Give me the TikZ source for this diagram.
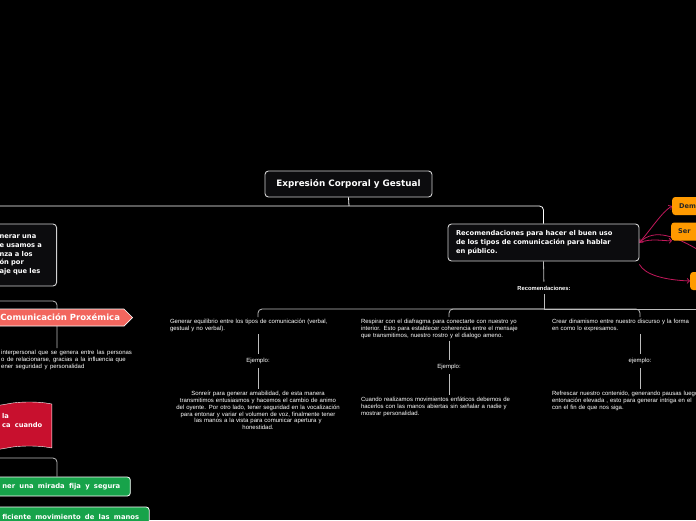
\documentclass[tikz,border=0pt]{standalone}
\usepackage{fontspec}
\setmainfont{DejaVu Sans}
\newfontfamily\smallsans[WordSpace=1.5]{Liberation Sans}
\newfontfamily\widesans[WordSpace=1.8]{DejaVu Sans}
\usetikzlibrary{arrows.meta,positioning,shapes.symbols,backgrounds}
\definecolor{nodebg}{HTML}{0C0C0E}
\definecolor{edge}{HTML}{D2D2D2}
\definecolor{lineg}{HTML}{BDBDBD}
\definecolor{cProx}{HTML}{F2665E}
\definecolor{cCrim}{HTML}{C8102E}
\definecolor{cGreen}{HTML}{17A34A}
\definecolor{cOrange}{HTML}{FF9A00}
\definecolor{cLink}{HTML}{C2185B}
\tikzset{darkbox/.style={draw=edge, line width=0.9pt, fill=nodebg, rounded corners=3.5pt, text=white},
  boldtxt/.style={font=\widesans\bfseries\fontsize{6.7}{8.8}\selectfont},
  smalltxt/.style={font=\smallsans\fontsize{6}{6.8}\selectfont, text=white!85, inner xsep=0pt, inner ysep=2pt},
  exlbl/.style={font=\smallsans\fontsize{6}{6.8}\selectfont, text=white!85, inner xsep=0pt, inner ysep=4pt},
  conn/.style={draw=lineg, line width=0.8pt, rounded corners=4pt},
  pill/.style={draw=white, line width=0.8pt, fill=#1, rounded corners=3pt, text=white, font=\widesans\bfseries\fontsize{6.8}{7.5}\selectfont, minimum height=19pt, inner xsep=10pt, inner ysep=0pt},
  tag/.style={fill=cOrange, rounded corners=3pt, text=black!85, font=\bfseries\fontsize{6.6}{8}\selectfont, minimum height=18pt, text width=30pt, inner xsep=7pt, align=left},
  link/.style={draw=cLink, line width=0.8pt, -{Straight Barb[length=2.4pt,width=5pt]}}}
\begin{document}
\begin{tikzpicture}[x=1pt,y=-1pt]
\useasboundingbox (0,0) rectangle (696,520);
\begin{scope}[on background layer]
\fill[black] (0,0) rectangle (696,520);
\end{scope}
% ---- central topic ----
\node[darkbox, font=\bfseries\fontsize{8.8}{10}\selectfont, minimum width=167pt, minimum height=26pt] (title) at (348.5,184) {Expresión Corporal y Gestual};
\node[darkbox, boldtxt, text width=175pt, align=left, inner xsep=8pt, minimum height=37pt] (rec) at (543.5,242.5) {Recomendaciones para hacer el buen uso\\ de los tipos de comunicación para hablar\\ en público.};
\coordinate (lin) at (0,206);
\draw[conn, draw=white!88] (title.south) -- (349,206);
\draw[conn, draw=white!88] (lin) -| (rec.north);
% ---- left branch ----
\node[darkbox, boldtxt, anchor=east, text width=50pt, align=left, inner xsep=7pt, minimum height=62pt] (lefttxt) at (57,255) {nerar una\\ e usamos a\\ nza a los\\ ón por\\ aje que les};
\coordinate (proxin) at (0,301);
\node[smalltxt, anchor=north west, align=left] (proxnote) at (1,348) {interpersonal que se genera entre las personas\\ o de relacionarse, gracias a la influencia que\\ ener seguridad y personalidad};
\draw[conn] (proxin) -| ([xshift=56pt]proxnote.north west);
\node[signal, signal to=east, fill=cProx, draw=white, line width=0.7pt, text=white, font=\bfseries\fontsize{8.5}{9}\selectfont, anchor=east, minimum height=17pt, inner xsep=4pt, inner ysep=0pt] (prox) at (133,317.5) {Comunicación Proxémica};
\node[tape, fill=cCrim, draw=white!55, line width=0.4pt, minimum width=90pt, minimum height=48pt, tape bend height=4pt, anchor=east] (crimbox) at (52,426) {};
\node[boldtxt, text=white, anchor=north west, align=left, inner sep=0pt] (crimtxt) at (2,413) {la\\ ca cuando};
\coordinate (gin) at (0,458);
\node[pill=cGreen, anchor=west] (green1) at (-8,486.5) {ner una mirada fija y segura};
\node[pill=cGreen, anchor=west] (green2) at (-8,516.5) {ficiente movimiento de las manos};
\draw[conn] (gin) -| ([xshift=65pt]green1.north west);
% ---- right tags ----
\node[tag, anchor=west] (dem) at (672,206) {Dem};
\node[tag, anchor=west] (ser) at (671,231.5) {Ser};
\node[tag, anchor=west] (tagc) at (690,281) {};
\coordinate (offr) at (702,252);
\begin{scope}[on background layer]
\draw[link] (rec.east) .. controls (652,228) and (662,212) .. (dem.west);
\draw[link] (rec.east) .. controls (652,238) and (662,241) .. ([xshift=1pt]ser.south west);
\draw[link] (offr) .. controls (675,236) and (655,228) .. (rec.east);
\draw[link] ([yshift=-3pt]rec.south east) .. controls (645,275) and (665,280) .. (tagc.west);
\end{scope}
% ---- recommendations ----
\node[exlbl, font=\smallsans\bfseries\fontsize{5.8}{6}\selectfont, text=white!60] (reclbl) at (544,288) {Recomendaciones:};
\coordinate (hub) at (544,309);
\coordinate (offc) at (702,309);
\draw[conn] (rec.south) -- (reclbl);
\draw[conn] (reclbl) -- (hub);
\node[smalltxt, text width=176pt, align=left, anchor=north] (c1a) at (258,317) {Generar equilibrio entre los tipos de comunicación (verbal,\\ gestual y no verbal).};
\node[exlbl] (c1e) at (258,361) {Ejemplo:};
\node[smalltxt, text width=180pt, align=center, anchor=north] (c1b) at (258,389) {Sonreír para generar amabilidad, de esta manera\\ transmitimos entusiasmos y hacemos el cambio de animo\\ del oyente. Por otro lado, tener seguridad en la vocalización\\ para entonar y variar el volumen de voz, finalmente tener\\ las manos a la vista para comunicar apertura y\\ honestidad.};
\node[smalltxt, text width=176pt, align=left, anchor=north] (c2a) at (449,317) {Respirar con el diafragma para conectarte con nuestro yo\\ interior. Esto para establecer coherencia entre el mensaje\\ que transmitimos, nuestro rostro y el dialogo ameno.};
\node[exlbl] (c2e) at (449,367) {Ejemplo:};
\node[smalltxt, text width=176pt, align=left, anchor=north] (c2b) at (449,395) {Cuando realizamos movimientos enfáticos debemos de\\ hacerlos con las manos abiertas sin señalar a nadie y\\ mostrar personalidad.};
\node[smalltxt, text width=176pt, align=left, anchor=north] (c3a) at (640,317) {Crear dinamismo entre nuestro discurso y la forma\\ en como lo expresamos.};
\node[exlbl] (c3e) at (640,361) {ejemplo:};
\node[smalltxt, text width=176pt, align=left, anchor=north] (c3b) at (640,389) {Refrescar nuestro contenido, generando pausas luego\\ entonación elevada , esto para generar intriga en el\\ con el fin de que nos siga.};
\draw[conn] (hub) -| (c1a.north);
\draw[conn] (hub) -| (c2a.north);
\draw[conn] (hub) -| (c3a.north);
\draw[conn] (hub) -- (offc);
\foreach \c in {1,2,3}{
  \draw[conn] (c\c a) -- (c\c e);
  \draw[conn] (c\c e) -- (c\c b);}
\end{tikzpicture}
\end{document}
